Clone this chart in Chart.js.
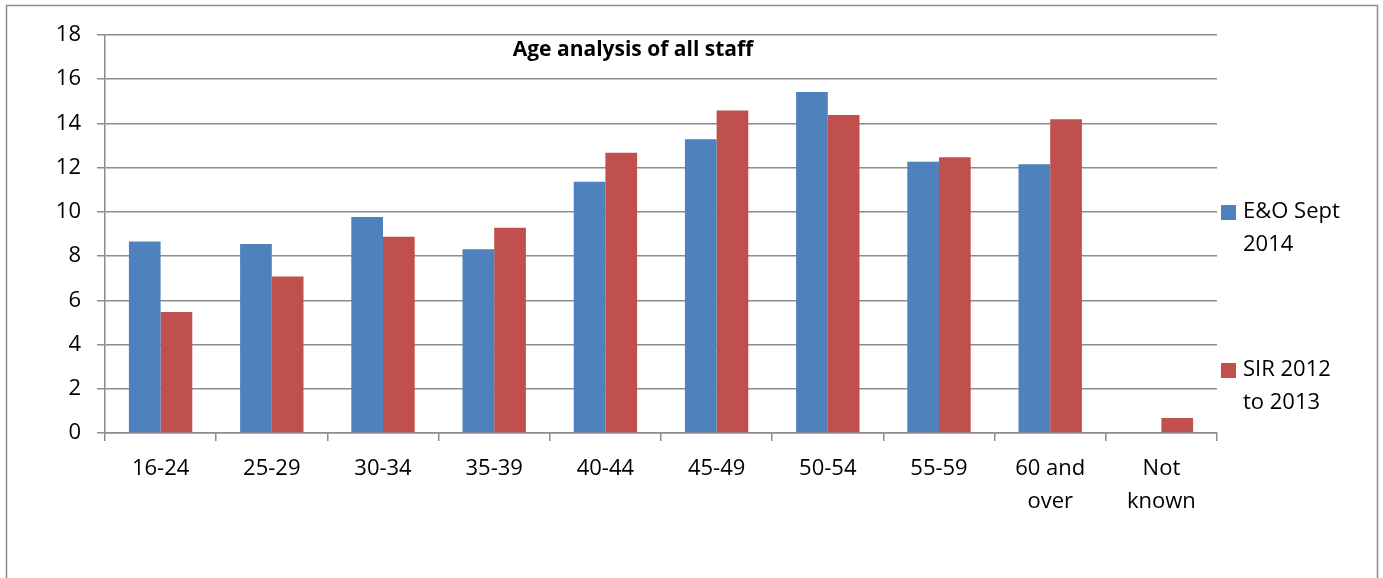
<!DOCTYPE html>
<html>
<head>
<meta charset="utf-8">
<script src="https://cdn.jsdelivr.net/npm/chart.js@4"></script>
<style>
  html, body { margin: 0; padding: 0; background: #fff; }
  #wrap { width: 1383px; height: 578px; }
</style>
</head>
<body>
<div id="wrap"><canvas id="grafica" width="1383" height="578"></canvas></div>
<script>
const categorias = ["16-24", "25-29", "30-34", "35-39", "40-44", "45-49", "50-54", "55-59", ["60 and", "over"], ["Not", "known"]];
const serieEO = [8.66, 8.55, 9.77, 8.31, 11.36, 13.28, 15.42, 12.27, 12.16, 0];
const serieSIR = [5.47, 7.08, 8.87, 9.28, 12.68, 14.58, 14.38, 12.47, 14.19, 0.68];
const nombresSeries = [["E&O Sept", "2014"], ["SIR 2012", "to 2013"]];
const colores = ["#4F81BD", "#C0504D"];
const ticksY = [0, 2, 4, 6, 8, 10, 12, 14, 16, 18];

const FUENTE = "'Open Sans', sans-serif";
const GRIS = "#8c8c8c";

// marco, titulo y leyenda dibujados a mano
const extras = {
  id: "extras",
  beforeDraw(chart) {
    const ctx = chart.ctx;
    ctx.save();
    ctx.strokeStyle = GRIS;
    ctx.lineWidth = 1.5;
    ctx.beginPath();
    ctx.moveTo(6.5, 600);
    ctx.lineTo(6.5, 5.5);
    ctx.lineTo(1377.5, 5.5);
    ctx.lineTo(1377.5, 600);
    ctx.stroke();
    ctx.restore();
  },
  afterDraw(chart) {
    const ctx = chart.ctx;
    ctx.save();
    ctx.fillStyle = "#000";
    ctx.font = "bold 21px " + FUENTE;
    ctx.textAlign = "center";
    ctx.textBaseline = "middle";
    ctx.fillText("Age analysis of all staff", 633, 50);

    ctx.font = "22px " + FUENTE;
    ctx.textAlign = "left";
    const ys = [212, 370];
    chart.data.datasets.forEach((ds, i) => {
      ctx.fillStyle = ds.backgroundColor;
      ctx.fillRect(1221, ys[i] - 7, 15, 15);
      ctx.fillStyle = "#000";
      nombresSeries[i].forEach((linea, j) => {
        ctx.fillText(linea, 1243, ys[i] + j * 33);
      });
    });
    ctx.restore();
  }
};

new Chart(document.getElementById("grafica"), {
  type: "bar",
  data: {
    labels: categorias,
    datasets: [
      { label: "E&O Sept 2014", data: serieEO, backgroundColor: colores[0] },
      { label: "SIR 2012 to 2013", data: serieSIR, backgroundColor: colores[1] }
    ]
  },
  options: {
    responsive: false,
    animation: false,
    devicePixelRatio: 1,
    categoryPercentage: 0.57,
    barPercentage: 1,
    layout: { padding: { left: 0, top: 35, right: 166, bottom: 0 } },
    plugins: {
      legend: { display: false },
      title: { display: false },
      tooltip: { enabled: false }
    },
    scales: {
      x: {
        afterFit: s => { s.height = 145; },
        border: { color: GRIS, width: 1.5 },
        grid: { offset: true, drawOnChartArea: false, drawTicks: true, tickLength: 8, color: GRIS, lineWidth: 1.5 },
        ticks: { color: "#000", font: { family: FUENTE, size: 22, lineHeight: 1.5 }, padding: 11, maxRotation: 0, autoSkip: false }
      },
      y: {
        min: 0,
        max: 18,
        afterFit: s => { s.width = 105; },
        afterBuildTicks: s => { s.ticks = ticksY.map(v => ({ value: v })); },
        border: { color: GRIS, width: 1.5 },
        grid: { color: GRIS, lineWidth: 1.5, tickLength: 8 },
        ticks: { color: "#000", font: { family: FUENTE, size: 22 }, padding: 16 }
      }
    }
  },
  plugins: [extras]
});
</script>
</body>
</html>
